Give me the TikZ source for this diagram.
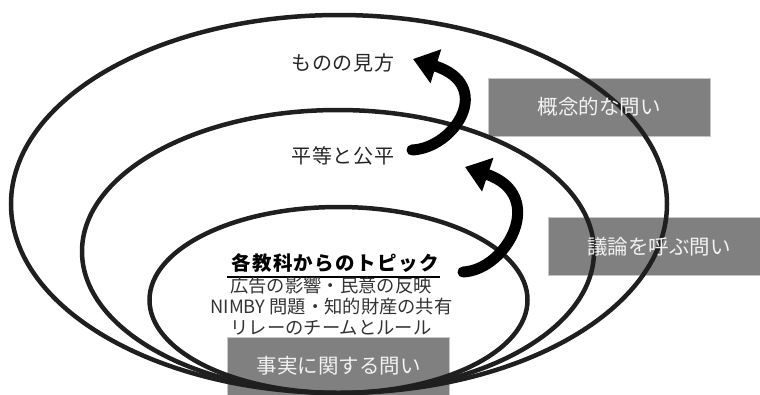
\documentclass[tikz,border=0pt]{standalone}
\usepackage{fontspec}
\setmainfont{Noto Sans CJK JP}
\usetikzlibrary{arrows.meta}
\tikzset{
  ring/.style={draw=black!88, line width=4.5pt},
  qbox/.style={fill=black!50, draw=black!22, line width=0.6pt, text=white!95!black,
    minimum width=222pt, minimum height=58pt, inner sep=0pt,
    font=\fontsize{20.5}{22}\selectfont},
  qtext/.style={text=white!95!black, font=\fontsize{20.5}{22}\selectfont},
  lbl/.style={inner sep=0pt, text=black!85,
    font=\fontsize{20}{22}\selectfont\addfontfeature{LetterSpace=4}},
  topic/.style={inner sep=0pt, text=black,
    font=\fontsize{19.5}{22}\selectfont\bfseries\addfontfeature{LetterSpace=7}},
  small/.style={inner sep=0pt, text=black!80, font=\fontsize{18.3}{20}\selectfont},
  bigarrow/.style={line width=11pt, line cap=round, draw=black,
    -{Triangle[length=24pt,width=34pt]}}
}
\begin{document}
\begin{tikzpicture}[x=1pt,y=-1pt]
\useasboundingbox (0,0) rectangle (760,394);
\clip (0,0) rectangle (760,394);
% boxes
\node[qbox] (qc) at (599,107) {};
\node[qbox] (qd) at (659,246.5) {};
\node[qbox] (qf) at (338.5,366) {};
% rings
\draw[ring] (339,204) ellipse [x radius=328pt, y radius=189pt];
\draw[ring] (338,251.5) ellipse [x radius=256pt, y radius=141.5pt];
\draw[ring] (338.5,300) ellipse [x radius=189pt, y radius=93pt];
% box texts
\node[qtext] (tc) at (qc) {概念的な問い};
\node[qtext] (td) at (qd) {議論を呼ぶ問い};
\node[qtext] (tf) at (qf) {事実に関する問い};
% labels
\node[lbl] (view) at (343,63) {ものの見方};
\node[lbl] (eq) at (343,156) {平等と公平};
\node[topic] (head) at (335,263) {各教科からのトピック};
\draw[line width=1.8pt] (227,277) -- (440,277);
\node[small] (l1) at (331,285.5) {広告の影響・民意の反映};
\node[small] (l2) at (331.5,306.5) {NIMBY 問題・知的財産の共有};
\node[small] (l3) at (331,327.5) {リレーのチームとルール};
% arrows
\coordinate (a1s) at (412,150);
\coordinate (a1e) at (413,59);
\coordinate (a2s) at (463,272);
\coordinate (a2e) at (465,167);
\draw[bigarrow] (a1s) .. controls (455,148) and (495,85) .. (a1e);
\draw[bigarrow] (a2s) .. controls (507,270) and (548,195) .. (a2e);
\end{tikzpicture}
\end{document}
